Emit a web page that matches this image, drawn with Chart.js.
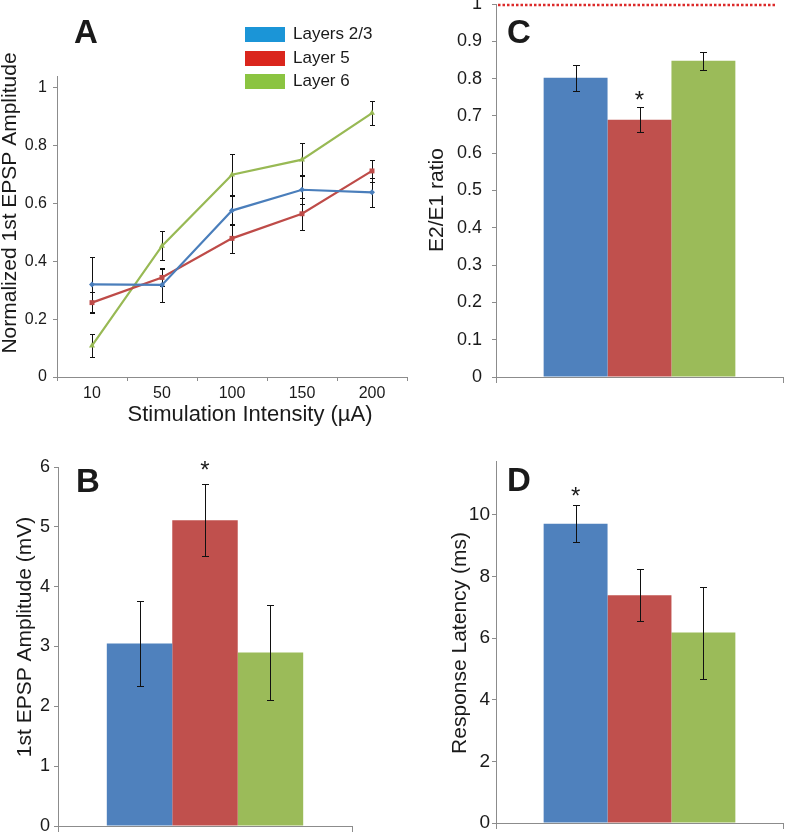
<!DOCTYPE html>
<html>
<head>
<meta charset="utf-8">
<script src="https://cdn.jsdelivr.net/npm/chart.js@4"></script>
<style>
  html, body { margin: 0; padding: 0; background: #fff; }
  #wrap { position: relative; width: 785px; height: 834px; overflow: hidden; }
  canvas { position: absolute; }
</style>
</head>
<body>
<div id="wrap">
  <canvas id="chartA" width="420" height="430" style="left:0;top:0"></canvas>
  <canvas id="chartC" width="385" height="420" style="left:400px;top:0"></canvas>
  <canvas id="chartB" width="400" height="409" style="left:0;top:425px"></canvas>
  <canvas id="chartD" width="385" height="409" style="left:400px;top:425px"></canvas>
</div>
<script>
// Layer groups shared by all four panels
const LAYERS = ['Layers 2/3', 'Layer 5', 'Layer 6'];
const BAR_COLORS = ['#4f81bd', '#c0504d', '#9bbb59'];
const LINE_COLORS = ['#4a7ebb', '#be4b48', '#98b954'];
const LEGEND_COLORS = ['#1b95d7', '#da261d', '#8bc441'];
const POINT_STYLES = ['rectRot', 'rect', 'triangle'];

// Panel A: normalized 1st EPSP amplitude vs stimulation intensity
const intensities = ['10', '50', '100', '150', '200'];
const ampL23 = [0.32, 0.318, 0.575, 0.647, 0.638];
const ampL5 = [0.257, 0.344, 0.479, 0.564, 0.712];
const ampL6 = [0.108, 0.453, 0.699, 0.751, 0.912];
const errAmpL23 = [0.094, 0.058, 0.05, 0.05, 0.05];
const errAmpL5 = [0.035, 0.03, 0.05, 0.055, 0.037];
const errAmpL6 = [0.04, 0.05, 0.07, 0.058, 0.04];

// Panel B: 1st EPSP amplitude (mV)
const epspMv = [3.05, 5.11, 2.90];
const epspErr = [0.71, 0.60, 0.80];
const epspStars = [null, 6.05, null];

// Panel C: E2/E1 ratio
const ratio = [0.802, 0.69, 0.848];
const ratioErr = [0.035, 0.034, 0.024];
const ratioStars = [null, 0.757, null];
const ratioRef = 1;

// Panel D: response latency (ms)
const latency = [9.71, 7.39, 6.18];
const latencyErr = [0.60, 0.84, 1.49];
const latencyStars = [10.79, null, null];

const FONT = "'Liberation Sans', Arial, Helvetica, sans-serif";
const TEXT = '#1a1a1a';
const AXIS = '#8c8c8c';

Chart.defaults.font.family = FONT;
Chart.defaults.color = TEXT;

function yAxis(max, step, lastTick, width, size, pad) {
  return {
    min: 0, max,
    border: { color: AXIS, width: 1 },
    grid: { drawOnChartArea: false, color: AXIS, tickLength: 4 },
    ticks: {
      padding: pad, color: TEXT,
      font: { size },
      callback: (v) => String(+(+v).toFixed(2)),
    },
    afterBuildTicks: (s) => {
      const ticks = [];
      for (let k = 0; k * step <= lastTick + 1e-9; k++) ticks.push({ value: +(k * step).toFixed(4) });
      s.ticks = ticks;
    },
    afterFit: (s) => { s.width = width; s.paddingTop = 0; s.paddingBottom = 0; },
  };
}

function barXAxis(height) {
  return {
    border: { color: AXIS, width: 1 },
    grid: { drawOnChartArea: false, color: AXIS, tickLength: 6, offset: true },
    ticks: { display: false },
    afterFit: (s) => { s.height = height; },
  };
}

// error bars, read from ds.errors through the y scale
const errorBars = {
  id: 'errorBars',
  draw(chart) {
    const ctx = chart.ctx;
    const y = chart.scales.y;
    const cap = chart.config.type === 'line' ? 2.5 : 3.5;
    chart.data.datasets.forEach((ds, i) => {
      if (!ds.errors) return;
      chart.getDatasetMeta(i).data.forEach((el, j) => {
        const v = ds.data[j], e = ds.errors[j];
        const top = Math.round(y.getPixelForValue(v + e)) + 0.5;
        const bot = Math.round(y.getPixelForValue(v - e)) + 0.5;
        const x = Math.round(el.x) + 0.5;
        ctx.save();
        ctx.strokeStyle = '#111';
        ctx.lineWidth = 1;
        ctx.beginPath();
        ctx.moveTo(x, top); ctx.lineTo(x, bot);
        ctx.moveTo(x - cap, top); ctx.lineTo(x + cap, top);
        ctx.moveTo(x - cap, bot); ctx.lineTo(x + cap, bot);
        ctx.stroke();
        ctx.restore();
      });
    });
  },
  beforeDatasetsDraw(chart) { if (chart.config.type === 'line') this.draw(chart); },
  afterDatasetsDraw(chart) { if (chart.config.type !== 'line') this.draw(chart); },
};

// significance stars above the bars
function starLayer(stars, size) {
  return {
    id: 'stars',
    afterDatasetsDraw(chart) {
      const ctx = chart.ctx;
      stars.forEach((v, i) => {
        if (v == null) return;
        const el = chart.getDatasetMeta(i).data[0];
        const yc = chart.scales.y.getPixelForValue(v);
        ctx.save();
        ctx.font = `${size}px ${FONT}`;
        ctx.fillStyle = TEXT;
        ctx.textAlign = 'center';
        ctx.textBaseline = 'alphabetic';
        ctx.fillText('*', el.x, yc + 0.57 * size);
        ctx.restore();
      });
    },
  };
}

// free text: panel letters and axis titles
function textLayer(items) {
  return {
    id: 'textLayer',
    afterDraw(chart) {
      const ctx = chart.ctx;
      items.forEach((it) => {
        ctx.save();
        ctx.font = it.font;
        ctx.fillStyle = TEXT;
        ctx.textAlign = it.align || 'left';
        ctx.textBaseline = 'alphabetic';
        ctx.translate(it.x, it.y);
        if (it.rotate) ctx.rotate(-Math.PI / 2);
        ctx.fillText(it.text, 0, 0);
        ctx.restore();
      });
    },
  };
}

const legendA = {
  id: 'legendA',
  afterDraw(chart) {
    const ctx = chart.ctx;
    const tops = [27, 51, 74];
    chart.data.datasets.forEach((ds, i) => {
      ctx.save();
      ctx.fillStyle = LEGEND_COLORS[i];
      ctx.fillRect(245, tops[i], 40, 15);
      ctx.font = `17px ${FONT}`;
      ctx.fillStyle = TEXT;
      ctx.textBaseline = 'alphabetic';
      ctx.fillText(ds.label, 293, tops[i] + 12);
      ctx.restore();
    });
  },
};

const letter = (t, x, y) => ({ text: t, x, y, font: `bold 33px ${FONT}` });
const ytitle = (t, x, y) => ({ text: t, x, y, rotate: true, align: 'center', font: `21px ${FONT}` });

// ---- A
new Chart(document.getElementById('chartA'), {
  type: 'line',
  data: {
    labels: intensities,
    datasets: [ampL23, ampL5, ampL6].map((d, i) => ({
      label: LAYERS[i],
      data: d,
      errors: [errAmpL23, errAmpL5, errAmpL6][i],
      borderColor: LINE_COLORS[i],
      backgroundColor: LINE_COLORS[i],
      borderWidth: 2.2,
      pointStyle: POINT_STYLES[i],
      pointRadius: i === 0 ? 3 : 3.5,
      pointBorderWidth: 0,
      tension: 0,
    })),
  },
  options: {
    responsive: false,
    animation: false,
    layout: { padding: { top: 76, right: 13, left: 0, bottom: 0 } },
    plugins: { legend: { display: false }, tooltip: { enabled: false } },
    scales: {
      x: {
        offset: true,
        border: { color: AXIS, width: 1 },
        grid: { drawOnChartArea: false, color: AXIS, tickLength: 4, offset: true },
        ticks: { color: TEXT, font: { size: 16 }, padding: 3, maxRotation: 0 },
        afterFit: (s) => { s.height = 53; },
      },
      y: yAxis(1.04, 0.2, 1, 57, 16, 6),
    },
  },
  plugins: [errorBars, legendA, textLayer([
    letter('A', 74, 43),
    ytitle('Normalized 1st EPSP Amplitude', 16, 203),
    { text: 'Stimulation Intensity (µA)', x: 250, y: 421, align: 'center', font: `22px ${FONT}` },
  ])],
});

function barChart(id, values, errs, stars, yConf, xHeight, padding, texts, extra) {
  return new Chart(document.getElementById(id), {
    type: 'bar',
    data: {
      labels: [''],
      datasets: values.map((v, i) => ({
        label: LAYERS[i],
        data: [v],
        errors: [errs[i]],
        backgroundColor: BAR_COLORS[i],
        categoryPercentage: 0.668,
        barPercentage: 1,
      })),
    },
    options: {
      responsive: false,
      animation: false,
      layout: { padding },
      plugins: { legend: { display: false }, tooltip: { enabled: false } },
      scales: { x: barXAxis(xHeight), y: yConf },
    },
    plugins: [errorBars, starLayer(stars, 24), textLayer(texts)].concat(extra || []),
  });
}

// ---- B
barChart('chartB', epspMv, epspErr, epspStars,
  yAxis(6, 1, 6, 58, 18, 4), 8,
  { top: 42, right: 48, left: 0, bottom: 0 },
  [letter('B', 76, 67), ytitle('1st EPSP Amplitude (mV)', 31, 212)]);

// ---- C (with the dotted reference line at a ratio of 1)
const refLine = {
  id: 'refLine',
  afterDraw(chart) {
    const ctx = chart.ctx;
    const y = chart.scales.y.getPixelForValue(ratioRef);
    ctx.save();
    ctx.strokeStyle = '#dc2a2a';
    ctx.lineWidth = 2.5;
    ctx.setLineDash([2.5, 2]);
    ctx.beginPath();
    ctx.moveTo(chart.chartArea.left + 2, y + 1);
    ctx.lineTo(chart.chartArea.right - 6, y + 1);
    ctx.stroke();
    ctx.restore();
  },
};
barChart('chartC', ratio, ratioErr, ratioStars,
  yAxis(1, 0.1, 1, 96, 18, 10), 43,
  { top: 4, right: 2, left: 0, bottom: 0 },
  [letter('C', 107, 43), ytitle('E2/E1 ratio', 43, 200)], [refLine]);

// ---- D
barChart('chartD', latency, latencyErr, latencyStars,
  yAxis(11.75, 2, 10, 96, 19, 2), 11,
  { top: 36, right: 2, left: 0, bottom: 0 },
  [letter('D', 107, 66), ytitle('Response Latency (ms)', 66, 218)]);
</script>
</body>
</html>
